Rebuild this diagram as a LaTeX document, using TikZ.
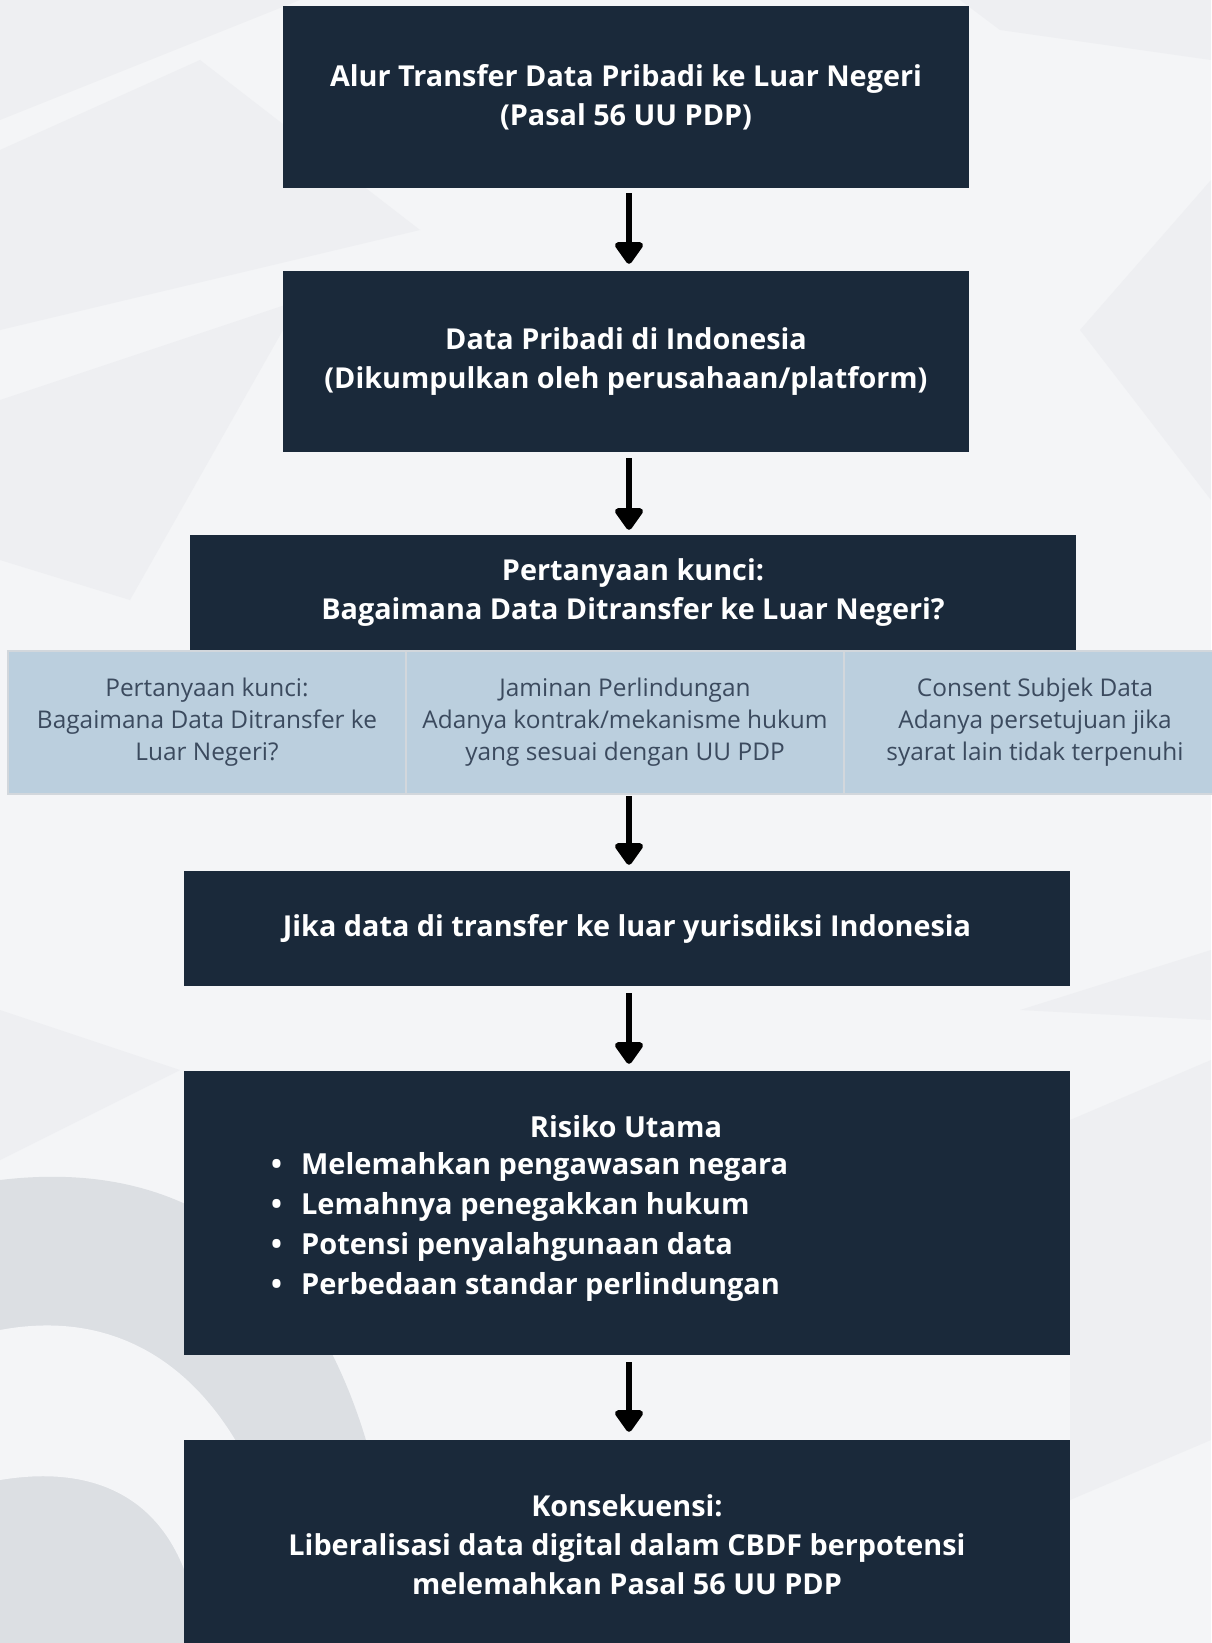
\documentclass[tikz,border=0pt]{standalone}
\usepackage{fontspec}
\setmainfont{Open Sans}
\usetikzlibrary{arrows.meta}
\definecolor{bgc}{HTML}{F4F5F7}
\definecolor{shA}{HTML}{EEEFF2}
\definecolor{shB}{HTML}{DCDFE3}
\definecolor{navy}{HTML}{1A293A}
\definecolor{cellc}{HTML}{BBCFDE}
\definecolor{celln}{HTML}{D2D7DC}
\definecolor{celltxt}{HTML}{3B4A5E}
\tikzset{
  darkbox/.style={fill=navy, draw=none, inner sep=0pt, align=center, text=white,
    font=\fontsize{28.8}{39}\selectfont\bfseries},
  cellbox/.style={fill=cellc, draw=celln, line width=2pt, inner sep=0pt, align=center,
    text=celltxt, font=\fontsize{24.4}{32}\selectfont},
  flowarrow/.style={line width=6pt, black, line join=round,
    -{Triangle[length=24pt,width=32pt,round]}},
  plain/.style={inner sep=0pt, text=white, font=\fontsize{29}{40}\selectfont\bfseries}
}
\begin{document}
\begin{tikzpicture}[x=1pt,y=-1pt]
\useasboundingbox (0,0) rectangle (1211,1643);
\fill[bgc] (0,0) rectangle (1211,1643);
% faint background geometry
\fill[shA] (0,0) -- (300,0) -- (0,120) -- cycle;
\fill[shA] (0,150) -- (200,60) -- (420,230) -- (0,330) -- cycle;
\fill[shA] (0,400) -- (300,300) -- (130,600) -- (0,560) -- cycle;
\fill[shA] (960,0) -- (1211,0) -- (1211,60) -- (1000,30) -- cycle;
\fill[shA] (1211,180) -- (1080,330) -- (1211,500) -- cycle;
\fill[shA] (1020,1010) -- (1211,950) -- (1211,1020) -- cycle;
\fill[shA] (1070,1120) -- (1211,1060) -- (1211,1440) -- (1070,1500) -- cycle;
\fill[shA] (0,1010) -- (180,1070) -- (0,1160) -- cycle;
\fill[shB] (0,1180) .. controls (250,1150) and (380,1330) .. (400,1643) -- (0,1643) -- cycle;
\fill[bgc] (0,1330) .. controls (160,1300) and (270,1420) .. (300,1643) -- (200,1643) .. controls (190,1520) and (120,1460) .. (0,1480) -- cycle;

\node[darkbox, minimum width=686pt, minimum height=182pt] (b1) at (626,97)
  {Alur Transfer Data Pribadi ke Luar Negeri\\(Pasal 56 UU PDP)};
\node[darkbox, minimum width=686pt, minimum height=181pt] (b2) at (626,361.5)
  {Data Pribadi di Indonesia\\(Dikumpulkan oleh perusahaan/platform)};
\node[darkbox, minimum width=886pt, minimum height=116pt] (b3) at (633,593)
  {Pertanyaan kunci:\\Bagaimana Data Ditransfer ke Luar Negeri?};
\node[cellbox, minimum width=398pt, minimum height=143pt] (c1) at (207,722.5)
  {Pertanyaan kunci:\\Bagaimana Data Ditransfer ke\\Luar Negeri?};
\node[cellbox, minimum width=438pt, minimum height=143pt] (c2) at (625,722.5)
  {Jaminan Perlindungan\\Adanya kontrak/mekanisme hukum\\yang sesuai dengan UU PDP};
\node[cellbox, minimum width=382pt, minimum height=143pt] (c3) at (1035,722.5)
  {Consent Subjek Data\\Adanya persetujuan jika\\syarat lain tidak terpenuhi};
\node[darkbox, minimum width=886pt, minimum height=115pt] (b4) at (627,928.5)
  {Jika data di transfer ke luar yurisdiksi Indonesia};
\node[darkbox, minimum width=886pt, minimum height=284pt] (b5) at (627,1213) {};
\node[plain] (b5t) at (626,1127) {Risiko Utama};
\node[plain, anchor=west, align=left] (b5l) at (271,1227)
  {•\hspace{19pt}Melemahkan pengawasan negara\\
   •\hspace{19pt}Lemahnya penegakkan hukum\\
   •\hspace{19pt}Potensi penyalahgunaan data\\
   •\hspace{19pt}Perbedaan standar perlindungan};
\node[darkbox, minimum width=886pt, minimum height=210pt] (b6) at (627,1545)
  {Konsekuensi:\\Liberalisasi data digital dalam CBDF berpotensi\\melemahkan Pasal 56 UU PDP};

\draw[flowarrow, shorten <=5pt, shorten >=7pt] ([xshift=3pt]b1.south) -- ([xshift=3pt]b2.north);
\draw[flowarrow, shorten <=6pt, shorten >=5pt] ([xshift=3pt]b2.south) -- ([xshift=3pt]b2.south |- b3.north);
\draw[flowarrow, shorten <=1pt, shorten >=6pt] ([xshift=4pt]c2.south) -- ([xshift=2pt]b4.north);
\draw[flowarrow, shorten <=7pt, shorten >=7pt] ([xshift=2pt]b4.south) -- ([xshift=2pt]b5.north);
\draw[flowarrow, shorten <=7pt, shorten >=8pt] ([xshift=2pt]b5.south) -- ([xshift=2pt]b6.north);
\end{tikzpicture}
\end{document}
